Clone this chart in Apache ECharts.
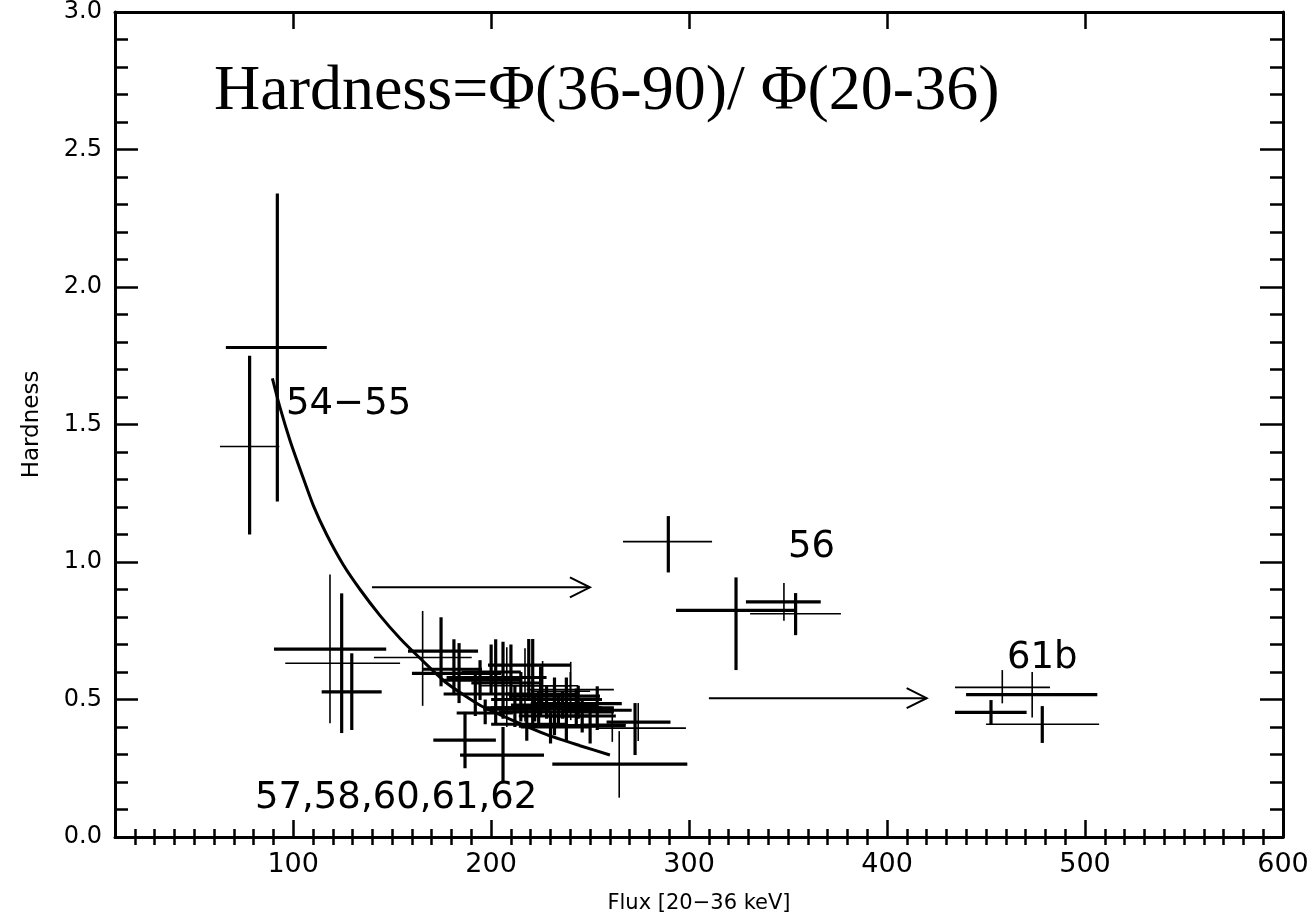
<!DOCTYPE html>
<html>
<head>
<meta charset="utf-8">
<script src="https://cdn.jsdelivr.net/npm/echarts@6/dist/echarts.min.js"></script>
<style>
html,body{margin:0;padding:0;background:#fff;}
#chart{width:1313px;height:923px;}
</style>
</head>
<body>
<div id="chart"></div>
<script>
// ---------------- DATA ----------------
// error crosses: centre x, x low, x high, centre y, y low, y high
const crossX   = [92, 78, 124.5, 118.6, 129.6, 289.5, 323.7, 347.9, 353.8,
                  458.2, 473.3, 452.5, 478.4,
                  165.4, 174.7, 181.2, 183.8, 202.3, 194.4, 206.0, 206, 207.9, 219, 221, 217.1, 240.2, 240,
                  232, 236, 224, 228, 253.6, 274.3, 272.7, 264.7, 238, 261.2, 186.8, 197, 230,
                  200, 210, 215, 225, 232, 243, 246, 212, 226, 250, 192, 238,
                  222, 234, 244, 218];
const crossXlo = [66, 63, 90.3, 96, 114.4, 266.6, 293.4, 328.7, 330.8,
                  434.3, 439.9, 434.3, 450.0,
                  140.8, 158.0, 165.6, 160, 177.5, 175, 184.3, 190, 185, 198.4, 200, 195, 220, 218,
                  209, 218, 205, 210, 236, 258.3, 253.9, 230.9, 214, 245, 170.8, 182.6, 215,
                  185, 192, 200, 208, 214, 225, 228, 196, 210, 232, 176, 222,
                  196, 204, 220, 200];
const crossXhi = [117, 93, 147, 154, 144.7, 311.6, 354, 366.5, 376.7,
                  482.3, 506.2, 470.5, 507.1,
                  190.2, 193.4, 195.4, 205, 226.2, 215, 226.7, 225, 240, 240.2, 245, 240, 250, 262,
                  255, 253.3, 245, 248, 271, 290.6, 298.4, 299.1, 253, 268, 202.4, 211, 250,
                  215, 228, 232, 243, 250, 262, 263, 230, 244, 268, 210, 256,
                  256, 262, 266, 238];
const crossY   = [1.78, 1.42, 0.683, 0.632, 0.528, 1.074, 0.824, 0.855, 0.812,
                  0.544, 0.518, 0.453, 0.410,
                  0.653, 0.676, 0.61, 0.595, 0.58, 0.57, 0.298, 0.56, 0.52, 0.625, 0.47, 0.55, 0.53, 0.536,
                  0.512, 0.475, 0.468, 0.48, 0.461, 0.418, 0.396, 0.265, 0.403, 0.41, 0.352, 0.451, 0.40,
                  0.60, 0.58, 0.50, 0.52, 0.44, 0.47, 0.44, 0.465, 0.55, 0.405, 0.52, 0.50,
                  0.47, 0.455, 0.485, 0.41];
const crossYlo = [1.22, 1.10, 0.378, 0.414, 0.389, 0.962, 0.607, 0.786, 0.734,
                  0.486, 0.435, 0.410, 0.342,
                  0.477, 0.548, 0.516, 0.487, 0.414, 0.498, 0.196, 0.43, 0.40, 0.5, 0.40, 0.42, 0.425, 0.47,
                  0.45, 0.43, 0.41, 0.43, 0.389, 0.349, 0.298, 0.143, 0.35, 0.346, 0.25, 0.41, 0.34,
                  0.52, 0.50, 0.42, 0.44, 0.37, 0.41, 0.38, 0.40, 0.47, 0.34, 0.44, 0.43,
                  0.42, 0.40, 0.43, 0.35];
const crossYhi = [2.34, 1.75, 0.886, 0.955, 0.668, 1.167, 0.944, 0.924, 0.887,
                  0.607, 0.600, 0.498, 0.476,
                  0.822, 0.799, 0.719, 0.705, 0.719, 0.643, 0.40, 0.71, 0.69, 0.72, 0.72, 0.686, 0.637, 0.60,
                  0.58, 0.53, 0.53, 0.55, 0.548, 0.487, 0.487, 0.385, 0.46, 0.459, 0.455, 0.50, 0.46,
                  0.70, 0.70, 0.60, 0.62, 0.52, 0.54, 0.50, 0.55, 0.64, 0.47, 0.60, 0.58,
                  0.52, 0.51, 0.55, 0.47];

// fitted curve
const curveX = [89.5, 93.3, 98.4, 104.3, 110.2, 116.9, 125.3, 133.8, 143.9, 154.0, 164.1, 177.5, 194.4, 211.2, 228.1, 244.9, 260];
const curveY = [1.668, 1.563, 1.442, 1.321, 1.205, 1.100, 0.990, 0.900, 0.805, 0.722, 0.650, 0.560, 0.479, 0.423, 0.372, 0.332, 0.298];

// arrows
const arrowX0 = [139.8, 310];
const arrowX1 = [249.9, 420];
const arrowY  = [0.908, 0.505];

// annotations
const noteText = ['54\u221255', '56', '61b', '57,58,60,61,62'];
const noteX    = [96.4, 349.9, 460.6, 80.7];
const noteY    = [1.574, 1.053, 0.649, 0.141];

// axes
const xMajorTicks = [100, 200, 300, 400, 500, 600];
const xTickLabels = ['100', '200', '300', '400', '500', '600'];
const yTickLabels = ['0.0', '0.5', '1.0', '1.5', '2.0', '2.5', '3.0'];

// ---------------- STYLE ----------------
// line weight of (horizontal, vertical) bar of each cross: T thick, t thin
const crossStyle = ['TT','tT','TT','tt','TT','tT','TT','Tt','tT',
                    'tt','Tt','TT','tT',
                    'tt','TT','TT','TT','TT','TT','TT','TT','tt','TT','TT','tt','tt','tt',
                    'TT','TT','TT','TT','TT','Tt','tT','Tt','TT','tt','TT','TT','TT',
                    'TT','TT','TT','TT','TT','TT','TT','TT','tt','TT','TT','TT',
                    'TT','TT','TT','TT'];
const THICK = 3.2, THIN = 1.6;

const xMinorTicks = [];
for (let v = 20; v < 600; v += 10) if (v % 100 !== 0) xMinorTicks.push(v);

const chart = echarts.init(document.getElementById('chart'), null, {renderer: 'canvas'});

const crossData = crossX.map((x, i) => [x, crossXlo[i], crossXhi[i], crossY[i], crossYlo[i], crossYhi[i]]);
const curveData = curveX.map((x, i) => [x, curveY[i]]);
const arrowData = arrowX0.map((x, i) => [x, arrowX1[i], arrowY[i]]);
const noteData  = noteX.map((x, i) => [x, noteY[i]]);

const baseX = {type: 'value', min: 10, max: 600, splitLine: {show: false}, axisLabel: {show: false},
               axisLine: {show: false}, axisPointer: {show: false}};
const lbl = {color: '#000', fontFamily: 'DejaVu Sans'};

const option = {
  animation: false,
  backgroundColor: '#fff',
  title: {
    text: 'Hardness=\u03A6(36-90)/ \u03A6(20-36)',
    left: 209, top: 55,
    textStyle: {fontFamily: '"Liberation Serif", "Times New Roman", serif', fontSize: 64, fontWeight: 'normal', color: '#000'}
  },
  grid: {left: 115, right: 30, top: 11, bottom: 86, containLabel: false},
  xAxis: [
    Object.assign({}, baseX, {
      position: 'bottom',
      axisLine: {show: true, onZero: false, lineStyle: {color: '#000', width: 3}},
      axisTick: {show: true, inside: true, length: 17, customValues: xMajorTicks, lineStyle: {color: '#000', width: 2.5}},
      axisLabel: Object.assign({show: true, customValues: xMajorTicks, fontSize: 27, margin: 14,
        formatter: v => xTickLabels[xMajorTicks.indexOf(Math.round(v))] || ''}, lbl),
      name: 'Flux [20\u221236 keV]', nameLocation: 'middle', nameGap: 56,
      nameTextStyle: Object.assign({fontSize: 21}, lbl)
    }),
    Object.assign({}, baseX, {
      position: 'bottom',
      axisTick: {show: true, inside: true, length: 8, customValues: xMinorTicks, lineStyle: {color: '#000', width: 2.5}}
    }),
    Object.assign({}, baseX, {
      position: 'top',
      axisLine: {show: true, onZero: false, lineStyle: {color: '#000', width: 3}},
      axisTick: {show: true, inside: true, length: 17, customValues: xMajorTicks, lineStyle: {color: '#000', width: 2.5}}
    }),
    Object.assign({}, baseX, {
      position: 'top',
      axisTick: {show: true, inside: true, length: 8, customValues: xMinorTicks, lineStyle: {color: '#000', width: 2.5}}
    })
  ],
  yAxis: [
    {
      type: 'value', min: 0, max: 3, interval: 0.5, position: 'left',
      axisLine: {show: true, onZero: false, lineStyle: {color: '#000', width: 3}},
      axisTick: {show: true, inside: true, length: 23, lineStyle: {color: '#000', width: 2.5}},
      minorTick: {show: true, splitNumber: 5, length: 13, lineStyle: {color: '#000', width: 2.5}},
      splitLine: {show: false},
      axisLabel: Object.assign({fontSize: 24, margin: 13,
        formatter: v => yTickLabels[Math.round(v * 2)]}, lbl),
      name: 'Hardness', nameLocation: 'middle', nameGap: 71,
      nameTextStyle: Object.assign({fontSize: 23}, lbl)
    },
    {
      type: 'value', min: 0, max: 3, interval: 0.5, position: 'right',
      axisLine: {show: true, onZero: false, lineStyle: {color: '#000', width: 3}},
      axisTick: {show: true, inside: true, length: 23, lineStyle: {color: '#000', width: 2.5}},
      minorTick: {show: true, splitNumber: 5, length: 13, lineStyle: {color: '#000', width: 2.5}},
      splitLine: {show: false},
      axisLabel: {show: false}
    }
  ],
  series: [
    {
      type: 'custom', xAxisIndex: 0, yAxisIndex: 0, silent: true,
      encode: {x: [0, 1, 2], y: [3, 4, 5]},
      data: crossData,
      renderItem: function (params, api) {
        const st = crossStyle[params.dataIndex];
        const l = api.coord([api.value(1), api.value(3)]);
        const r = api.coord([api.value(2), api.value(3)]);
        const b = api.coord([api.value(0), api.value(4)]);
        const t = api.coord([api.value(0), api.value(5)]);
        return {
          type: 'group',
          children: [
            {type: 'line', shape: {x1: l[0], y1: l[1], x2: r[0], y2: r[1]},
             style: {stroke: '#000', lineWidth: st[0] === 'T' ? THICK : THIN}},
            {type: 'line', shape: {x1: b[0], y1: b[1], x2: t[0], y2: t[1]},
             style: {stroke: '#000', lineWidth: st[1] === 'T' ? THICK : THIN}}
          ]
        };
      }
    },
    {
      type: 'line', xAxisIndex: 0, yAxisIndex: 0, data: curveData, smooth: 0.2,
      showSymbol: false, silent: true,
      lineStyle: {color: '#000', width: 3}
    },
    {
      type: 'custom', xAxisIndex: 0, yAxisIndex: 0, silent: true,
      encode: {x: [0, 1], y: 2},
      data: arrowData,
      renderItem: function (params, api) {
        const a = api.coord([api.value(0), api.value(2)]);
        const e = api.coord([api.value(1), api.value(2)]);
        const s = {stroke: '#000', lineWidth: 2};
        return {
          type: 'group',
          children: [
            {type: 'line', shape: {x1: a[0], y1: a[1], x2: e[0], y2: e[1]}, style: s},
            {type: 'polyline', shape: {points: [[e[0] - 20, e[1] - 10], [e[0], e[1]], [e[0] - 20, e[1] + 10]]}, style: Object.assign({fill: null}, s)}
          ]
        };
      }
    },
    {
      type: 'custom', xAxisIndex: 0, yAxisIndex: 0, silent: true,
      encode: {x: 0, y: 1},
      data: noteData,
      renderItem: function (params, api) {
        const p = api.coord([api.value(0), api.value(1)]);
        return {
          type: 'text',
          style: {text: noteText[params.dataIndex], x: p[0], y: p[1], fill: '#000',
                  font: '37px "DejaVu Sans"', align: 'left', verticalAlign: 'middle'}
        };
      }
    }
  ]
};
chart.setOption(option);
</script>
</body>
</html>
